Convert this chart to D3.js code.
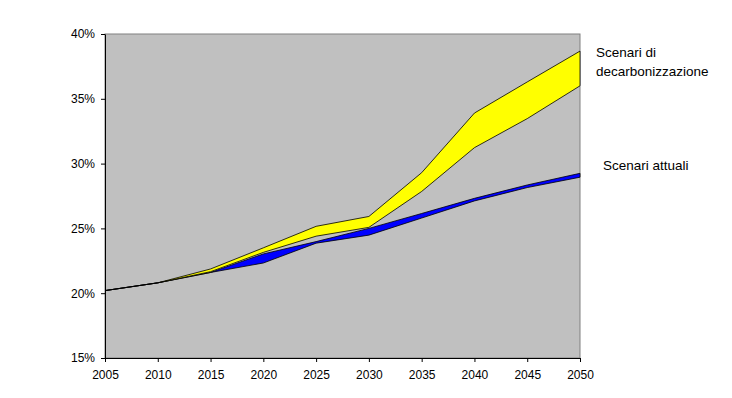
<!DOCTYPE html>
<html>
<head>
<meta charset="utf-8">
<script src="https://cdn.jsdelivr.net/npm/d3@7"></script>
<style>
  body { margin: 0; background: #fff; }
  text { font-family: "Liberation Sans", Arial, sans-serif; }
</style>
</head>
<body>
<div id="chart"></div>
<script>
// Data (percent)
const years = [2005, 2010, 2015, 2020, 2025, 2030, 2035, 2040, 2045, 2050];
const decarbHigh = [20.2, 20.8, 21.87, 23.5, 25.16, 25.92, 29.3, 33.9, 36.3, 38.68];
const decarbLow = [20.2, 20.8, 21.66, 23.15, 24.4, 25.08, 27.85, 31.23, 33.47, 36.0];
const attualiHigh = [20.2, 20.8, 21.6, 23.03, 23.98, 25.0, 26.15, 27.32, 28.35, 29.25];
const attualiLow = [20.2, 20.8, 21.6, 22.33, 23.86, 24.48, 25.8, 27.12, 28.15, 28.95];
const yTicks = [15, 20, 25, 30, 35, 40];

const margin = { top: 34, right: 152, bottom: 40, left: 105 },
      width = 732 - margin.left - margin.right,
      height = 398 - margin.top - margin.bottom;

const svg = d3.select("#chart")
  .append("svg")
    .attr("width", 732)
    .attr("height", 398)
  .append("g")
    .attr("transform", `translate(${margin.left},${margin.top})`);

const x = d3.scaleLinear()
  .domain([2005, 2050])
  .range([0, width]);

const y = d3.scaleLinear()
  .domain([15, 40])
  .range([height, 0]);

// Plot background
svg.append("rect")
  .attr("width", width)
  .attr("height", height)
  .attr("fill", "#c0c0c0")
  .attr("stroke", "#808080")
  .attr("stroke-width", 1);

const area = (hi, lo) => d3.area()
  .x((d, i) => x(years[i]))
  .y0((d, i) => y(lo[i]))
  .y1(d => y(d))(hi);

// Scenari attuali band
svg.append("path")
  .attr("d", area(attualiHigh, attualiLow))
  .attr("fill", "#0000ff")
  .attr("stroke", "#000")
  .attr("stroke-width", 0.8);

// Scenari di decarbonizzazione band
svg.append("path")
  .attr("d", area(decarbHigh, decarbLow))
  .attr("fill", "#ffff00")
  .attr("stroke", "#000")
  .attr("stroke-width", 0.8);

// X axis
const xAxis = svg.append("g")
  .attr("transform", `translate(0,${height})`)
  .call(d3.axisBottom(x).tickValues(years).tickFormat(d3.format("d")).tickSize(4).tickSizeOuter(0));
xAxis.select(".domain").attr("stroke", "#000");
xAxis.selectAll("text")
  .attr("dy", "1.15em")
  .style("font-size", "12px")
  .attr("fill", "#000");

// Y axis
const yAxis = svg.append("g")
  .call(d3.axisLeft(y).tickValues(yTicks).tickFormat(d => d + "%").tickSize(4).tickSizeOuter(0));
yAxis.select(".domain").attr("stroke", "#000");
yAxis.selectAll("text")
  .attr("x", -10)
  .style("font-size", "12px")
  .attr("fill", "#000");

// Labels
svg.append("text")
  .attr("x", 596 - margin.left)
  .attr("y", 57 - margin.top)
  .style("font-size", "13.5px")
  .text("Scenari di");
svg.append("text")
  .attr("x", 596 - margin.left)
  .attr("y", 76 - margin.top)
  .style("font-size", "13.5px")
  .text("decarbonizzazione");
svg.append("text")
  .attr("x", 603 - margin.left)
  .attr("y", 170 - margin.top)
  .style("font-size", "13.5px")
  .text("Scenari attuali");
</script>
</body>
</html>
